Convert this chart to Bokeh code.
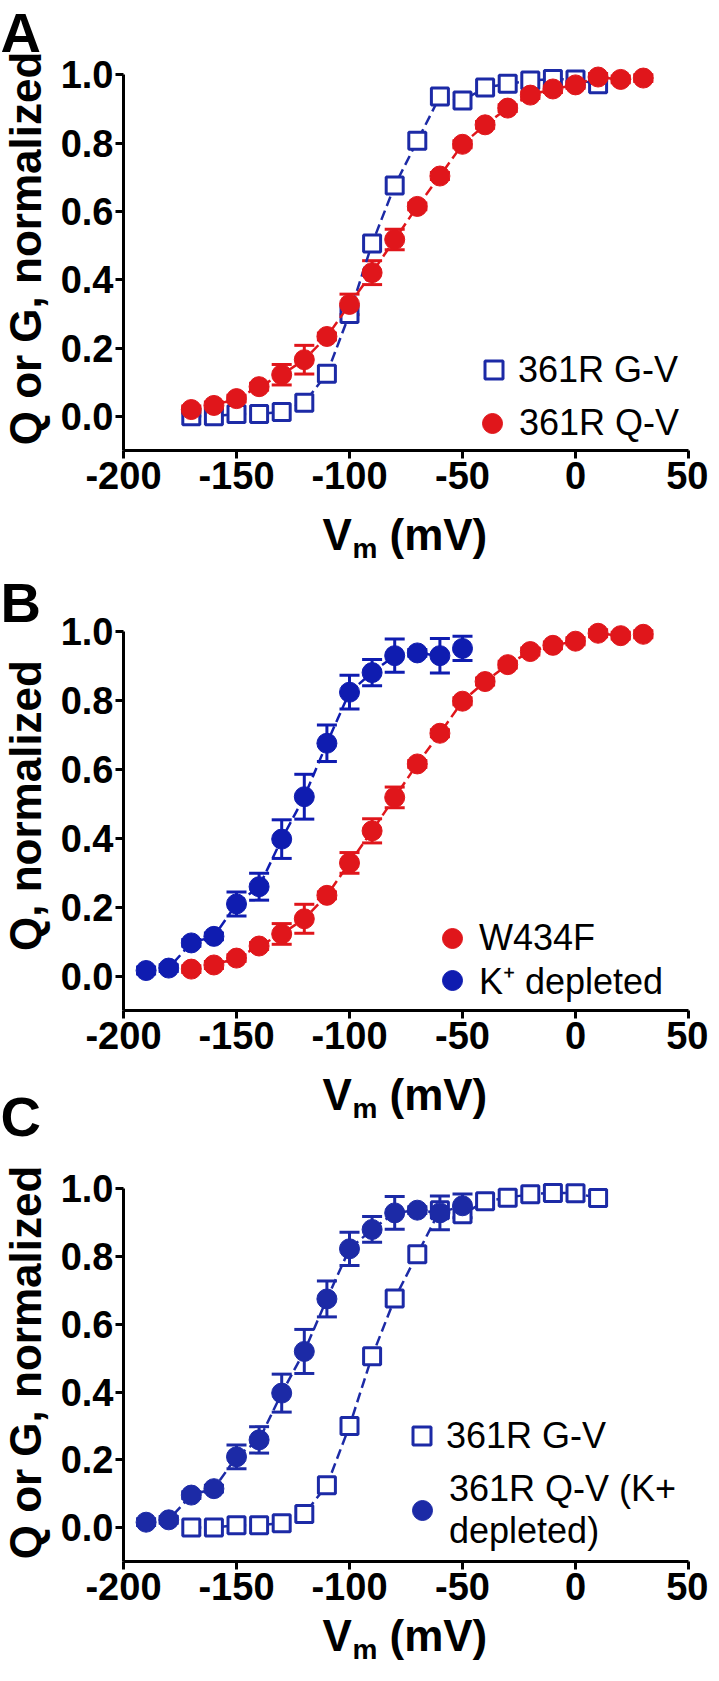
from bokeh.plotting import figure
from bokeh.models import (Range1d, FixedTicker, NumeralTickFormatter, Label, Legend,
                          LegendItem, Whisker, TeeHead, ColumnDataSource)
from bokeh.layouts import column
from bokeh.embed import file_html
from bokeh.resources import INLINE

# ---------------- data ----------------
gv_mv = [-170, -160, -150, -140, -130, -120, -110, -100, -90, -80, -70, -60, -50, -40, -30, -20, -10, 0, 10]
gv_g = [0.0, 0.0, 0.007, 0.007, 0.013, 0.04, 0.125, 0.30, 0.506, 0.676, 0.807, 0.937, 0.925,
        0.963, 0.974, 0.984, 0.988, 0.987, 0.973]

qv_mv = [-170, -160, -150, -140, -130, -120, -110, -100, -90, -80, -70, -60, -50, -40, -30, -20,
         -10, 0, 10, 20, 30]
qv_q = [0.02, 0.032, 0.052, 0.087, 0.122, 0.166, 0.234, 0.328, 0.421, 0.518, 0.615, 0.704, 0.797,
        0.854, 0.903, 0.941, 0.959, 0.971, 0.994, 0.987, 0.991]
qv_err = [0.01, 0.01, 0.01, 0.01, 0.03, 0.042, 0.01, 0.03, 0.035, 0.03, 0.01, 0.01, 0.01, 0.01,
          0.01, 0.01, 0.01, 0.01, 0.01, 0.01, 0.01]

k_mv = [-190, -180, -170, -160, -150, -140, -130, -120, -110, -100, -90, -80, -70, -60, -50]
k_q = [0.016, 0.023, 0.096, 0.115, 0.209, 0.259, 0.397, 0.52, 0.675, 0.823, 0.88, 0.929, 0.937,
       0.929, 0.95]
k_err = [0.01, 0.01, 0.01, 0.01, 0.035, 0.039, 0.056, 0.065, 0.053, 0.049, 0.038, 0.048, 0.01,
         0.05, 0.035]

x_ticks = [-200, -150, -100, -50, 0, 50]
y_ticks = [0.0, 0.2, 0.4, 0.6, 0.8, 1.0]

RED = "#e0161b"
BLUE_SQ = "#1c2aa6"
BLUE_CI = "#0f1cb0"
FONT = "Liberation Sans"

W = 708
FL = 123           # canvas px of x = -200
FR = 688           # canvas px of x = 50
AX_X0, AX_X1 = -200, 50
AX_Y0, AX_Y1 = -0.1, 1.0
SX = (FR - FL) / (AX_X1 - AX_X0)


def make_panel(h, ft, fb):
    # ft: canvas px of y = 1.06 ; fb: canvas px of y = -0.1
    sy = (fb - ft) / 1.16
    xr = Range1d(AX_X0 - FL / SX, AX_X1 + (W - FR) / SX)
    yr = Range1d(AX_Y0 - (h - fb) / sy, 1.06 + ft / sy)
    p = figure(width=W, height=h, x_range=xr, y_range=yr,
               output_backend="svg", toolbar_location=None, title=None,
               min_border=0, min_border_left=0, min_border_right=0, min_border_top=0,
               min_border_bottom=0, outline_line_color=None)
    p.grid.visible = False
    for ax in (p.xaxis[0], p.yaxis[0]):
        ax.axis_line_width = 3
        ax.axis_line_color = "black"
        ax.major_tick_line_width = 3
        ax.major_tick_out = 8
        ax.major_tick_in = 0
        ax.minor_tick_out = 0
        ax.minor_tick_in = 0
        ax.major_label_text_font = FONT
        ax.major_label_text_font_style = "bold"
        ax.major_label_text_font_size = "38px"
        ax.major_label_text_color = "black"
    p.xaxis.ticker = FixedTicker(ticks=x_ticks)
    p.xaxis.major_label_overrides = {t: str(t) for t in x_ticks}
    p.xaxis.bounds = (AX_X0, AX_X1)
    p.xaxis.fixed_location = AX_Y0
    p.xaxis.major_label_standoff = 3
    p.yaxis.ticker = FixedTicker(ticks=y_ticks)
    p.yaxis.formatter = NumeralTickFormatter(format="0.0")
    p.yaxis.bounds = (AX_Y0, AX_Y1)
    p.yaxis.fixed_location = AX_X0
    p.yaxis.major_label_standoff = 2
    p._geom = (h, ft, fb, sy, xr, yr)
    return p


def to_data(p, cx, cy):
    h, ft, fb, sy, xr, yr = p._geom
    return xr.start + cx / SX, yr.end - cy / sy


def text(p, cx, cy, s, size, bold=True, angle=0, align="left"):
    # cy is the vertical middle of the text
    x, y = to_data(p, cx, cy)
    p.add_layout(Label(x=x, y=y, text=s, text_font=FONT, text_font_size=f"{size}px",
                       text_font_style="bold" if bold else "normal", text_color="black",
                       angle=angle, text_align=align, text_baseline="middle"))


def xtitle(p, mid_cy):
    text(p, 322, mid_cy, "V", 44)
    text(p, 352, mid_cy + 14, "m", 28)
    text(p, 389, mid_cy, "(mV)", 44)


def ytitle(p, s, center_cy):
    text(p, 25, center_cy, s, 44, angle=1.5708, align="center")


def series_squares(p, xs, ys, color):
    src = ColumnDataSource(dict(x=xs, y=ys))
    p.line("x", "y", source=src, line_color=color, line_width=2.5, line_dash="10 5")
    return p.scatter("x", "y", source=src, marker="square", size=17, fill_color="white",
                     line_color=color, line_width=3)


def series_circles(p, xs, ys, err, color):
    src = ColumnDataSource(dict(x=xs, y=ys, upper=[a + b for a, b in zip(ys, err)],
                                lower=[a - b for a, b in zip(ys, err)]))
    p.line("x", "y", source=src, line_color=color, line_width=2.5, line_dash="10 5")
    p.add_layout(Whisker(source=src, base="x", upper="upper", lower="lower",
                         line_color=color, line_width=3,
                         upper_head=TeeHead(size=20, line_color=color, line_width=3),
                         lower_head=TeeHead(size=20, line_color=color, line_width=3)))
    return p.scatter("x", "y", source=src, marker="circle", size=20, fill_color=color,
                     line_color=color, line_width=1)


def legend(p, r, label, loc, g):
    h, ft, fb, sy, xr, yr = p._geom
    leg = Legend(items=[LegendItem(label=label, renderers=[r])],
                 location=(loc[0] + FL, loc[1] + (h - fb)),
                 padding=0, margin=0, spacing=0, glyph_width=g, glyph_height=g,
                 label_standoff=2, border_line_color=None, background_fill_alpha=0,
                 label_text_font=FONT, label_text_font_size="36px",
                 label_text_color="black")
    p.add_layout(leg)


# ---------------- panel A ----------------
pA = make_panel(570, 54, 450)
rA1 = series_squares(pA, gv_mv, gv_g, BLUE_SQ)
rA2 = series_circles(pA, qv_mv, qv_q, qv_err, RED)
legend(pA, rA1, "361R G-V", (348, 58), 45)
legend(pA, rA2, "361R Q-V", (344, 2), 50)
text(pA, 0, 32, "A", 56)
ytitle(pA, "Q or G, normalized", 248)
xtitle(pA, 534)

# ---------------- panel B ----------------
pB = make_panel(578, 40, 440)
rB1 = series_circles(pB, qv_mv, qv_q, qv_err, RED)
rB2 = series_circles(pB, k_mv, k_q, k_err, BLUE_CI)
legend(pB, rB1, "W434F", (304, 47), 50)
legend(pB, rB2, "K\u207a depleted", (304, 5), 50)
text(pB, 0, 32, "B", 56)
ytitle(pB, "Q, normalized", 235)
xtitle(pB, 524)
text(pB, 0, 546, "C", 56)

# ---------------- panel C ----------------
pC = make_panel(517, 20, 413)
rC1 = series_squares(pC, gv_mv, gv_g, BLUE_SQ)
rC2 = series_circles(pC, k_mv, k_q, k_err, BLUE_SQ)
legend(pC, rC1, "361R G-V", (276, 103), 45)
legend(pC, rC2, "361R Q-V (K+\ndepleted)", (274, 9), 50)
ytitle(pC, "Q or G, normalized", 214)
xtitle(pC, 487)

layout = column(pA, pB, pC, spacing=0)
open("out.html", "w").write(file_html(layout, INLINE))
